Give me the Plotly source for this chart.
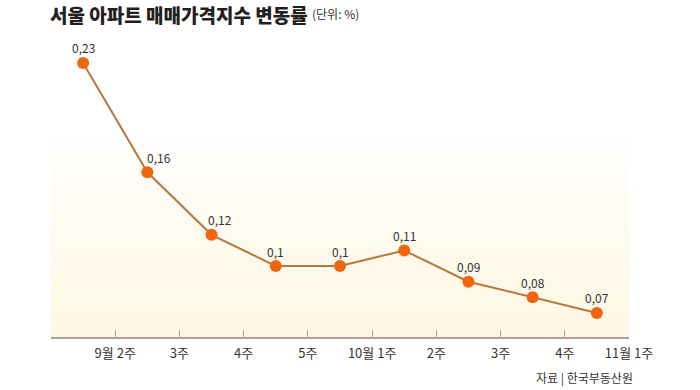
import plotly.graph_objects as go

# Data
tick_labels = ["9월 2주", "3주", "4주", "5주", "10월 1주", "2주", "3주", "4주", "11월 1주"]
values = [0.23, 0.16, 0.12, 0.1, 0.1, 0.11, 0.09, 0.08, 0.07]
title_text = "서울 아파트 매매가격지수 변동률"
unit_text = "(단위: %)"
source_text = "자료 | 한국부동산원"

FONT = "Noto Sans CJK KR"
x_pts = [i + 0.5 for i in range(len(values))]
tick_vals = [i + 1 for i in range(len(tick_labels))]
label_xshift = [0, 12, 8, 0, 0, 0, 0, 0, 0]

fig = go.Figure()
fig.add_trace(go.Scatter(
    x=x_pts, y=values, mode="lines+markers",
    line=dict(color="#b7783c", width=2),
    marker=dict(color="#f0650d", size=12),
    hoverinfo="skip", showlegend=False,
))

annotations = []
for xv, yv, dx in zip(x_pts, values, label_xshift):
    annotations.append(dict(
        x=xv, y=yv, xref="x", yref="y", text=str(yv).replace(".", ","),
        showarrow=False, yshift=15, xshift=dx, xanchor="center", yanchor="middle",
        font=dict(family=FONT, size=12, color="#333333"),
    ))
annotations.append(dict(
    x=0, y=1, xref="paper", yref="paper", xanchor="left", yanchor="middle",
    text=title_text, showarrow=False, xshift=-3, yshift=26,
    font=dict(family=FONT, size=19, color="#231f20", weight=900),
))
annotations.append(dict(
    x=0, y=1, xref="paper", yref="paper", xanchor="left", yanchor="middle",
    text=unit_text, showarrow=False, xshift=259, yshift=27,
    font=dict(family=FONT, size=12, color="#333333"),
))
annotations.append(dict(
    x=1.0, y=0, xref="paper", yref="paper", xanchor="right", yanchor="middle",
    text=source_text, showarrow=False, xshift=6, yshift=-41,
    font=dict(family=FONT, size=12, color="#333333"),
))

# vertical gradient background (white -> cream) via stacked bands
shapes = []
n = 40
g_top = 0.70
for i in range(n):
    t = (i + 0.5) / n  # 0 at bottom, 1 at top
    r = round(254 + (255 - 254) * t)
    g = round(247 + (255 - 247) * t ** 1.3)
    b = round(228 + (255 - 228) * t ** 1.3)
    shapes.append(dict(
        type="rect", xref="paper", yref="paper",
        x0=0, x1=1, y0=g_top * i / n, y1=g_top * (i + 1) / n,
        fillcolor=f"rgb({r},{g},{b})", line=dict(width=0), layer="below",
    ))

fig.update_layout(
    width=700, height=390,
    margin=dict(l=51, r=71, t=40, b=53),
    paper_bgcolor="white", plot_bgcolor="white",
    font=dict(family=FONT, size=12, color="#333333"),
    xaxis=dict(
        range=[0, len(values)], tickmode="array", tickvals=[0] + tick_vals,
        ticktext=[""] + tick_labels, showgrid=False, zeroline=False,
        showline=True, linecolor="#a8a49c", linewidth=1.5,
        ticks="inside", ticklen=7, tickcolor="#a8a49c", tickwidth=1.2,
        ticklabelstandoff=4,
        tickfont=dict(family=FONT, size=13, color="#333333"), fixedrange=True,
    ),
    yaxis=dict(
        range=[0.0546, 0.2447], visible=False, showgrid=False, zeroline=False,
        fixedrange=True,
    ),
    annotations=annotations,
    shapes=shapes,
)

fig.write_html(
    "out.html",
    config={"displayModeBar": False},
    post_script="document.body.style.margin='0';document.body.style.overflow='hidden';",
)
